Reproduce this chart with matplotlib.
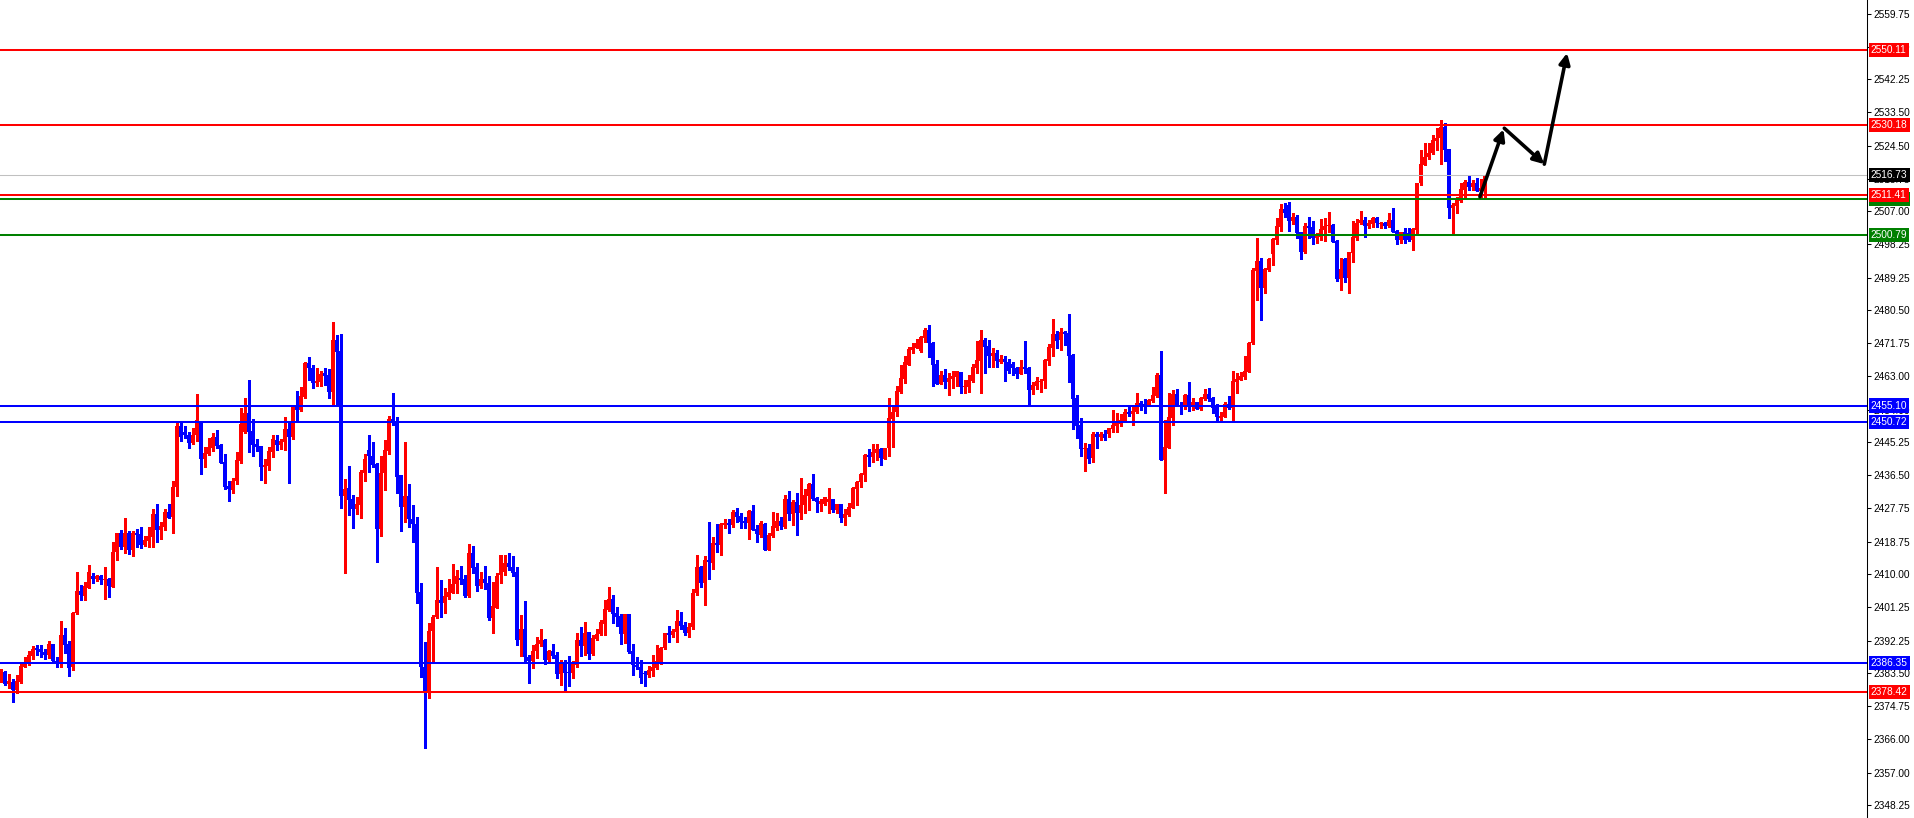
import numpy as np
import matplotlib
matplotlib.use("Agg")
import matplotlib.pyplot as plt
import matplotlib.transforms as mtransforms

# gold candles (one per 4 px)
opens = [
    2382.2, 2383.8, 2380.7, 2381.3, 2379.1, 2381.2, 2385.3, 2386.0, 2388.2, 2390.2,
    2390.0, 2389.1, 2388.5, 2391.4, 2386.8, 2386.2, 2393.8, 2391.4, 2385.1, 2399.6,
    2405.5, 2404.3, 2406.4, 2409.5, 2408.8, 2409.5, 2408.6, 2408.7, 2406.7, 2416.0,
    2420.9, 2417.3, 2421.0, 2416.5, 2421.0, 2420.8, 2417.8, 2418.9, 2420.0, 2426.1,
    2421.8, 2422.7, 2426.7, 2425.3, 2433.3, 2449.6, 2448.1, 2447.2, 2445.0, 2447.1,
    2451.0, 2440.9, 2442.2, 2443.8, 2446.6, 2444.6, 2440.0, 2433.6, 2432.5, 2434.8,
    2440.3, 2447.9, 2453.2, 2448.3, 2444.8, 2444.3, 2438.8, 2439.0, 2442.8, 2445.9,
    2444.6, 2445.4, 2448.8, 2446.7, 2454.8, 2453.9, 2457.3, 2466.4, 2465.0, 2461.1,
    2461.5, 2463.7, 2463.3, 2458.8, 2472.6, 2469.7, 2431.0, 2433.0, 2430.0, 2427.4,
    2428.5, 2437.2, 2443.2, 2441.7, 2439.5, 2422.1, 2437.2, 2443.0, 2451.5, 2450.9,
    2436.4, 2428.1, 2430.9, 2424.8, 2423.4, 2405.3, 2385.2, 2378.4, 2394.9, 2398.5,
    2403.1, 2402.4, 2404.0, 2405.1, 2407.4, 2409.1, 2408.8, 2404.2, 2415.7, 2411.9,
    2407.0, 2408.7, 2407.7, 2398.4, 2401.1, 2409.8, 2410.7, 2412.9, 2412.0, 2410.5,
    2392.4, 2395.3, 2387.8, 2386.8, 2389.5, 2391.4, 2392.4, 2387.1, 2389.5, 2388.3,
    2383.4, 2386.2, 2383.9, 2383.7, 2385.8, 2392.4, 2390.8, 2394.5, 2388.7, 2392.7,
    2394.0, 2396.7, 2400.4, 2403.4, 2399.6, 2398.8, 2394.0, 2399.4, 2389.5, 2385.8,
    2385.3, 2383.5, 2383.1, 2384.2, 2385.0, 2386.2, 2390.2, 2394.2, 2393.9, 2394.7,
    2397.6, 2396.4, 2394.2, 2395.8, 2404.9, 2412.0, 2407.6, 2413.8, 2413.1, 2418.3,
    2417.7, 2423.2, 2423.8, 2423.2, 2426.6, 2425.6, 2424.2, 2423.6, 2426.9, 2422.0,
    2420.5, 2423.4, 2416.5, 2420.2, 2422.5, 2424.2, 2422.7, 2430.1, 2426.1, 2429.4,
    2426.3, 2428.5, 2431.0, 2434.2, 2430.3, 2428.7, 2428.7, 2429.4, 2430.1, 2427.2,
    2428.8, 2425.1, 2425.8, 2427.8, 2432.7, 2434.6, 2436.4, 2441.9, 2441.4, 2442.5,
    2443.6, 2440.8, 2443.7, 2451.5, 2453.3, 2458.6, 2462.2, 2465.9, 2469.9, 2470.6,
    2469.7, 2473.2, 2475.3, 2471.9, 2466.1, 2460.9, 2463.3, 2461.5, 2462.2, 2462.6,
    2464.1, 2460.0, 2460.1, 2461.7, 2465.2, 2467.1, 2472.6, 2471.0, 2468.2, 2469.2,
    2466.6, 2467.5, 2466.6, 2466.2, 2465.0, 2463.5, 2465.3, 2465.0, 2459.3, 2460.3,
    2461.3, 2461.7, 2467.1, 2470.6, 2474.2, 2472.6, 2474.8, 2474.4, 2468.6, 2457.0,
    2449.9, 2443.5, 2443.7, 2441.0, 2447.4, 2446.6, 2447.4, 2447.4, 2448.7, 2449.5,
    2450.2, 2451.0, 2453.4, 2452.8, 2453.4, 2455.7, 2455.4, 2455.2, 2456.4, 2457.7,
    2463.3, 2440.5, 2443.7, 2451.7, 2458.2, 2455.2, 2454.8, 2457.9, 2454.8, 2456.0,
    2454.2, 2456.9, 2458.2, 2457.0, 2454.8, 2451.7, 2452.1, 2455.4, 2454.5, 2461.5,
    2461.9, 2462.8, 2464.1, 2471.9, 2491.1, 2493.7, 2486.6, 2491.3, 2495.5, 2499.3,
    2502.9, 2507.6, 2508.7, 2504.5, 2505.6, 2501.5, 2496.0, 2503.1, 2502.8, 2500.0,
    2500.2, 2502.0, 2503.0, 2503.3, 2499.1, 2488.9, 2494.3, 2489.3, 2495.9, 2500.0,
    2503.8, 2504.7, 2503.2, 2503.6, 2505.3, 2503.5, 2504.0, 2503.1, 2504.7, 2501.7,
    2499.2, 2501.4, 2501.1, 2499.2, 2502.0, 2514.5, 2519.4, 2521.4, 2522.5, 2525.9,
    2526.5, 2529.6, 2523.6, 2507.8, 2508.4, 2509.8, 2512.7, 2514.8, 2513.4, 2514.5,
    2512.5, 2513.2,
]
highs = [
    2384.6, 2384.1, 2383.3, 2382.0, 2383.1, 2385.9, 2387.9, 2389.5, 2390.8, 2391.1,
    2391.1, 2390.0, 2392.2, 2391.5, 2388.0, 2397.5, 2395.7, 2392.2, 2399.9, 2410.6,
    2407.1, 2408.0, 2412.5, 2410.4, 2409.8, 2409.8, 2412.0, 2409.1, 2418.5, 2421.1,
    2421.8, 2425.1, 2421.6, 2421.6, 2422.1, 2422.6, 2420.3, 2422.7, 2427.4, 2428.8,
    2424.0, 2427.5, 2428.8, 2434.9, 2450.3, 2450.3, 2449.5, 2447.9, 2449.0, 2458.2,
    2451.0, 2444.1, 2446.3, 2447.7, 2448.6, 2444.8, 2442.1, 2434.8, 2435.6, 2442.7,
    2454.4, 2457.0, 2461.9, 2451.5, 2446.1, 2444.3, 2440.8, 2444.1, 2447.2, 2447.1,
    2446.1, 2452.0, 2450.3, 2455.0, 2459.0, 2460.0, 2466.6, 2468.1, 2465.9, 2465.0,
    2464.2, 2465.0, 2464.8, 2477.4, 2474.0, 2474.2, 2435.5, 2438.9, 2431.2, 2430.7,
    2437.9, 2442.1, 2447.1, 2445.4, 2439.8, 2441.7, 2445.9, 2452.3, 2458.5, 2452.0,
    2436.5, 2445.4, 2434.1, 2428.5, 2425.4, 2407.6, 2392.0, 2397.0, 2399.0, 2412.0,
    2408.5, 2406.4, 2408.7, 2412.7, 2411.1, 2412.2, 2409.8, 2418.1, 2417.6, 2412.9,
    2410.7, 2412.2, 2409.6, 2408.0, 2410.3, 2415.2, 2415.2, 2415.8, 2414.9, 2412.0,
    2399.1, 2402.9, 2388.4, 2391.1, 2393.3, 2395.5, 2392.6, 2389.8, 2391.3, 2389.3,
    2387.1, 2387.1, 2388.2, 2386.8, 2394.4, 2396.0, 2397.2, 2394.7, 2393.8, 2395.5,
    2397.9, 2403.1, 2406.6, 2404.5, 2401.3, 2399.3, 2399.4, 2399.4, 2391.4, 2388.0,
    2387.1, 2384.2, 2385.5, 2388.4, 2391.1, 2390.7, 2394.4, 2396.2, 2395.3, 2400.5,
    2399.9, 2397.3, 2397.1, 2406.0, 2415.2, 2412.2, 2414.9, 2424.0, 2420.0, 2423.4,
    2423.8, 2424.7, 2424.7, 2427.2, 2427.6, 2426.3, 2425.4, 2427.2, 2428.5, 2423.2,
    2424.3, 2423.6, 2420.9, 2426.6, 2426.5, 2425.4, 2431.2, 2432.3, 2429.9, 2431.6,
    2435.8, 2432.7, 2434.5, 2436.9, 2430.7, 2430.0, 2430.7, 2433.1, 2430.1, 2428.8,
    2428.9, 2427.4, 2429.1, 2433.4, 2435.0, 2437.0, 2442.2, 2443.5, 2444.8, 2444.7,
    2443.8, 2443.8, 2457.2, 2455.0, 2460.3, 2465.9, 2468.3, 2470.7, 2471.9, 2472.8,
    2473.7, 2475.9, 2476.6, 2472.2, 2467.3, 2464.3, 2464.8, 2463.7, 2464.3, 2464.3,
    2464.1, 2461.9, 2463.3, 2466.1, 2472.3, 2475.3, 2473.1, 2472.6, 2470.6, 2469.9,
    2468.6, 2468.4, 2467.4, 2466.6, 2465.3, 2467.3, 2472.3, 2465.3, 2461.5, 2462.6,
    2462.2, 2467.6, 2471.5, 2478.2, 2475.0, 2475.9, 2475.1, 2479.6, 2468.8, 2457.9,
    2451.7, 2445.0, 2444.7, 2447.9, 2447.9, 2447.9, 2448.6, 2449.2, 2453.9, 2453.2,
    2452.8, 2454.1, 2455.0, 2455.0, 2458.5, 2456.4, 2456.8, 2456.8, 2460.1, 2463.9,
    2469.7, 2451.2, 2458.4, 2459.3, 2459.5, 2456.0, 2458.1, 2461.4, 2457.0, 2456.0,
    2457.3, 2459.4, 2459.8, 2457.3, 2455.4, 2453.5, 2456.0, 2457.6, 2464.3, 2463.9,
    2464.1, 2468.2, 2472.2, 2491.8, 2499.8, 2494.6, 2491.8, 2494.4, 2499.8, 2505.3,
    2508.9, 2509.1, 2509.6, 2506.5, 2506.0, 2501.6, 2503.8, 2505.6, 2504.4, 2501.1,
    2504.9, 2505.1, 2506.9, 2503.5, 2499.3, 2494.4, 2494.4, 2496.2, 2504.5, 2504.9,
    2507.1, 2505.6, 2504.7, 2505.6, 2505.6, 2504.2, 2504.2, 2506.5, 2507.8, 2502.0,
    2501.6, 2502.5, 2502.5, 2502.5, 2514.6, 2523.4, 2525.2, 2525.2, 2527.4, 2529.2,
    2531.4, 2530.5, 2523.6, 2509.3, 2510.9, 2514.5, 2515.4, 2516.7, 2515.4, 2515.8,
    2515.6, 2516.7,
]
lows = [
    2381.3, 2380.3, 2379.7, 2376.0, 2378.4, 2381.0, 2385.3, 2385.7, 2387.3, 2388.4,
    2388.0, 2387.3, 2387.5, 2386.2, 2385.3, 2385.3, 2388.9, 2382.9, 2384.4, 2399.4,
    2403.1, 2403.1, 2406.3, 2407.6, 2408.2, 2407.4, 2403.4, 2403.8, 2406.5, 2413.8,
    2416.8, 2415.8, 2415.4, 2414.9, 2417.4, 2416.9, 2417.6, 2417.2, 2417.4, 2418.6,
    2419.4, 2421.8, 2425.0, 2421.0, 2430.8, 2445.7, 2446.3, 2443.8, 2444.8, 2445.6,
    2436.9, 2438.8, 2441.9, 2443.0, 2443.7, 2439.7, 2432.7, 2429.7, 2431.6, 2434.0,
    2439.8, 2447.8, 2442.8, 2441.7, 2443.0, 2435.2, 2434.5, 2437.9, 2441.4, 2443.2,
    2443.5, 2443.2, 2434.5, 2446.1, 2451.2, 2453.7, 2457.1, 2461.9, 2459.9, 2460.3,
    2460.3, 2460.6, 2457.0, 2455.2, 2455.2, 2427.8, 2410.4, 2425.9, 2422.5, 2426.1,
    2425.1, 2435.0, 2437.4, 2438.8, 2413.4, 2420.3, 2432.5, 2442.1, 2449.9, 2431.8,
    2421.7, 2424.1, 2422.7, 2418.7, 2402.2, 2382.6, 2363.7, 2376.9, 2386.2, 2398.2,
    2398.5, 2399.7, 2403.3, 2404.9, 2405.1, 2407.4, 2404.0, 2404.0, 2410.3, 2405.4,
    2406.3, 2406.0, 2397.7, 2394.4, 2400.9, 2407.8, 2409.8, 2411.1, 2409.5, 2391.1,
    2388.2, 2386.7, 2381.0, 2385.0, 2387.5, 2390.8, 2386.0, 2386.2, 2387.5, 2382.2,
    2380.4, 2378.6, 2380.1, 2382.4, 2385.3, 2388.2, 2388.4, 2387.4, 2388.4, 2392.4,
    2393.8, 2393.8, 2400.3, 2396.9, 2396.2, 2391.4, 2391.7, 2388.9, 2383.1, 2384.6,
    2381.0, 2380.1, 2382.5, 2382.8, 2384.6, 2386.0, 2389.9, 2392.0, 2393.3, 2392.0,
    2395.5, 2393.9, 2393.3, 2395.5, 2404.5, 2406.5, 2401.8, 2408.7, 2411.3, 2416.0,
    2415.2, 2422.5, 2421.1, 2422.7, 2424.1, 2422.5, 2422.3, 2419.5, 2421.8, 2418.7,
    2419.9, 2416.5, 2416.5, 2419.9, 2421.8, 2422.0, 2422.5, 2424.5, 2423.2, 2420.5,
    2424.8, 2426.3, 2427.2, 2429.9, 2426.7, 2426.9, 2428.5, 2426.3, 2426.7, 2426.3,
    2424.1, 2423.2, 2425.6, 2427.6, 2428.5, 2433.2, 2435.0, 2438.9, 2440.1, 2440.5,
    2439.2, 2440.7, 2441.6, 2444.1, 2452.3, 2458.4, 2461.0, 2465.9, 2469.2, 2470.4,
    2469.3, 2472.2, 2468.0, 2460.3, 2460.9, 2460.8, 2459.7, 2457.9, 2459.7, 2460.3,
    2458.5, 2458.5, 2458.8, 2461.4, 2463.9, 2458.5, 2463.9, 2465.5, 2465.5, 2465.5,
    2466.4, 2461.7, 2463.9, 2463.3, 2462.5, 2463.5, 2463.9, 2455.1, 2458.2, 2459.4,
    2458.8, 2459.7, 2465.8, 2468.2, 2470.6, 2470.0, 2471.3, 2461.5, 2448.8, 2446.5,
    2441.7, 2437.7, 2439.8, 2440.1, 2443.8, 2445.9, 2445.9, 2446.6, 2447.9, 2447.9,
    2449.5, 2450.8, 2452.3, 2449.9, 2453.2, 2453.9, 2453.2, 2455.0, 2456.1, 2457.3,
    2440.5, 2431.8, 2443.7, 2449.9, 2455.0, 2452.8, 2454.1, 2453.6, 2453.9, 2454.2,
    2453.9, 2456.6, 2456.4, 2453.2, 2450.8, 2451.2, 2452.1, 2454.3, 2450.6, 2458.5,
    2461.9, 2462.3, 2464.0, 2471.5, 2483.3, 2478.0, 2485.3, 2491.0, 2492.7, 2498.2,
    2501.7, 2505.4, 2501.7, 2503.6, 2500.0, 2494.3, 2495.8, 2500.0, 2498.3, 2498.6,
    2499.2, 2499.1, 2501.6, 2498.7, 2488.4, 2486.0, 2488.0, 2485.3, 2493.5, 2499.3,
    2503.6, 2500.2, 2502.6, 2502.7, 2502.9, 2502.5, 2502.5, 2502.7, 2501.6, 2498.3,
    2498.6, 2498.6, 2499.1, 2496.7, 2501.1, 2513.9, 2519.4, 2521.0, 2522.2, 2523.4,
    2519.7, 2520.5, 2505.3, 2500.9, 2506.5, 2509.6, 2510.5, 2512.7, 2512.7, 2512.4,
    2510.9, 2510.3,
]
closes = [
    2383.5, 2380.6, 2381.5, 2379.1, 2381.5, 2385.5, 2386.0, 2388.4, 2390.0, 2389.8,
    2389.1, 2388.5, 2391.4, 2386.7, 2386.2, 2393.8, 2391.1, 2384.9, 2399.6, 2405.5,
    2404.4, 2406.8, 2410.6, 2408.7, 2409.5, 2408.5, 2408.8, 2406.9, 2416.0, 2420.9,
    2417.2, 2421.0, 2416.5, 2421.1, 2420.6, 2417.8, 2419.1, 2420.1, 2426.1, 2421.8,
    2422.9, 2426.7, 2425.1, 2433.3, 2449.6, 2446.8, 2447.1, 2445.2, 2447.2, 2451.2,
    2440.9, 2442.3, 2444.1, 2446.6, 2444.4, 2439.8, 2433.4, 2432.7, 2434.9, 2440.5,
    2450.2, 2453.2, 2448.1, 2444.6, 2444.1, 2438.8, 2439.2, 2443.0, 2446.2, 2444.6,
    2445.6, 2448.8, 2446.8, 2454.8, 2453.9, 2457.6, 2466.4, 2465.2, 2461.1, 2461.7,
    2463.5, 2463.1, 2458.8, 2472.6, 2469.5, 2431.0, 2432.7, 2429.9, 2427.4, 2428.7,
    2437.3, 2440.8, 2441.7, 2439.2, 2422.1, 2437.2, 2443.2, 2451.5, 2450.5, 2436.1,
    2428.1, 2430.9, 2424.7, 2423.4, 2405.1, 2385.1, 2378.4, 2394.9, 2398.7, 2403.1,
    2402.4, 2404.3, 2405.3, 2407.4, 2409.5, 2408.5, 2404.2, 2415.7, 2411.8, 2407.0,
    2408.7, 2407.6, 2398.4, 2401.4, 2409.5, 2415.2, 2412.9, 2411.9, 2410.4, 2392.4,
    2395.3, 2388.0, 2386.8, 2389.5, 2391.5, 2392.4, 2387.1, 2389.5, 2388.2, 2383.4,
    2386.2, 2383.5, 2383.7, 2386.0, 2392.4, 2390.8, 2394.4, 2388.7, 2392.9, 2394.0,
    2397.2, 2400.7, 2403.4, 2399.4, 2398.7, 2394.0, 2399.4, 2389.1, 2385.7, 2385.1,
    2382.4, 2383.3, 2384.4, 2385.3, 2386.7, 2390.4, 2394.2, 2393.9, 2394.8, 2397.6,
    2396.3, 2394.2, 2396.0, 2405.1, 2412.0, 2407.6, 2413.8, 2413.2, 2418.3, 2417.7,
    2423.4, 2423.8, 2423.2, 2426.6, 2425.4, 2424.1, 2423.6, 2426.9, 2421.8, 2420.7,
    2423.6, 2416.5, 2420.5, 2422.9, 2424.3, 2422.9, 2430.1, 2426.1, 2429.4, 2426.3,
    2428.5, 2431.2, 2434.2, 2430.1, 2429.4, 2429.6, 2430.7, 2430.1, 2427.2, 2428.8,
    2425.1, 2426.2, 2427.9, 2433.0, 2434.7, 2436.8, 2441.9, 2441.4, 2442.7, 2443.6,
    2441.0, 2443.8, 2451.7, 2453.5, 2459.1, 2462.4, 2466.7, 2470.2, 2470.8, 2471.9,
    2473.3, 2475.3, 2471.7, 2465.9, 2460.9, 2463.3, 2461.5, 2462.4, 2463.0, 2464.2,
    2460.1, 2460.3, 2461.9, 2465.4, 2467.3, 2472.6, 2470.8, 2468.2, 2469.2, 2467.1,
    2467.5, 2466.6, 2464.3, 2465.2, 2463.5, 2465.3, 2464.9, 2459.3, 2460.6, 2461.7,
    2461.7, 2467.3, 2470.7, 2474.2, 2472.4, 2474.8, 2474.3, 2468.4, 2456.8, 2449.7,
    2443.5, 2443.8, 2440.9, 2447.4, 2446.6, 2447.4, 2446.3, 2449.0, 2449.8, 2450.3,
    2451.2, 2453.4, 2452.8, 2453.6, 2455.7, 2455.2, 2455.2, 2456.6, 2457.9, 2463.3,
    2440.5, 2443.9, 2451.9, 2458.2, 2455.1, 2455.0, 2457.9, 2454.8, 2456.0, 2454.2,
    2457.0, 2458.2, 2456.9, 2454.5, 2451.9, 2452.3, 2455.4, 2454.5, 2461.7, 2462.2,
    2463.0, 2464.3, 2471.9, 2491.3, 2493.7, 2486.6, 2491.6, 2494.3, 2499.6, 2503.1,
    2507.6, 2506.6, 2504.5, 2505.6, 2501.3, 2496.2, 2503.1, 2502.6, 2500.0, 2500.4,
    2502.3, 2503.2, 2503.3, 2498.9, 2488.9, 2491.7, 2489.3, 2496.1, 2500.2, 2504.0,
    2504.7, 2503.2, 2503.8, 2505.3, 2503.8, 2504.0, 2503.1, 2504.7, 2501.6, 2499.2,
    2501.4, 2499.2, 2499.2, 2502.2, 2514.6, 2519.6, 2521.6, 2522.7, 2526.1, 2526.7,
    2529.4, 2523.4, 2508.0, 2508.7, 2510.0, 2512.9, 2514.8, 2513.4, 2514.5, 2512.5,
    2513.2, 2516.73,
]

# horizontal levels drawn on the chart: (price, colour)
level_prices = [2550.11, 2530.18, 2510.31, 2511.41, 2500.79, 2455.10, 2450.72, 2386.35, 2378.42]
level_colors = ['#FF0000', '#FF0000', '#008000', '#FF0000', '#008000', '#0000FF', '#0000FF', '#0000FF', '#FF0000']
bid_price = 2516.73

tick_values = [2559.75, 2551.00, 2542.25, 2533.50, 2524.50, 2515.75, 2507.00, 2498.25,
               2489.25, 2480.50, 2471.75, 2463.00, 2454.00, 2445.25, 2436.50, 2427.75,
               2418.75, 2410.00, 2401.25, 2392.25, 2383.50, 2374.75, 2366.00, 2357.00,
               2348.25]

# hand drawn projection arrows: (bar index, price) tail -> head
arrow_tails = [(369.8, 2510.9), (375.9, 2529.2), (385.9, 2519.6)]
arrow_heads = [(375.7, 2528.9), (385.9, 2519.6), (391.6, 2549.3)]

o = np.array(opens)
h = np.array(highs)
l = np.array(lows)
c = np.array(closes)
n = min(len(o), len(h), len(l), len(c))
o, h, l, c = o[:n], h[:n], l[:n], c[:n]
x = np.arange(n)
cols = np.where(c >= o, '#FF0000', '#0000FF')

W, H = 1915, 818
axis_px = 1867
fig = plt.figure(figsize=(W / 100, H / 100), dpi=100)
fig.patch.set_facecolor('white')
ax = fig.add_axes([0, 0, axis_px / W, 1])
ax.set_facecolor('white')

# 4 px per bar, first bar at 0.7 px
ax.set_xlim(-0.175, -0.175 + axis_px / 4)
ax.set_ylim(2344.87, 2563.47)

ax.vlines(x, l, h, colors=cols, linewidth=0.75, zorder=2, antialiased=False)
body = np.maximum(np.abs(c - o), 0.27)
ax.bar(x, body, bottom=np.minimum(o, c), width=0.75, color=cols,
       linewidth=0, zorder=2.1, antialiased=False)

ax.axhline(bid_price, color='#C0C0C0', linewidth=0.75, zorder=2.5)
for p, col in zip(level_prices, level_colors):
    ax.axhline(p, color=col, linewidth=1.45, zorder=3)

for (tx, ty), (hx, hy) in zip(arrow_tails, arrow_heads):
    ax.annotate('', xy=(hx, hy), xytext=(tx, ty),
                arrowprops=dict(arrowstyle='-|>', color='black', lw=2.6,
                                mutation_scale=16, shrinkA=0, shrinkB=0),
                zorder=4)

for s in ['top', 'left', 'bottom']:
    ax.spines[s].set_visible(False)
ax.spines['right'].set_color('black')
ax.spines['right'].set_linewidth(0.75)
ax.set_xticks([])
ax.yaxis.tick_right()
ax.set_yticks(tick_values)
ax.set_yticklabels([f'{v:.2f}' for v in tick_values])
ax.tick_params(axis='y', direction='out', length=3, width=0.75, pad=1.5,
               labelsize=7.3, colors='black')
for lab in ax.get_yticklabels():
    lab.set_fontfamily('Liberation Sans')

# price tags on the scale
trans = mtransforms.blended_transform_factory(ax.transAxes, ax.transData)
tags = list(zip(level_prices, level_colors)) + [(bid_price, '#000000')]
for p, col in tags:
    ax.text(1.0021, p, f'{p:.2f}', transform=trans, color='white',
            fontsize=7.3, family='Liberation Sans', va='center', ha='left',
            clip_on=False, zorder=5,
            bbox=dict(boxstyle='square,pad=0.2', facecolor=col, edgecolor='none'))

plt.savefig('out.png', dpi=100, facecolor='white')
plt.close()
